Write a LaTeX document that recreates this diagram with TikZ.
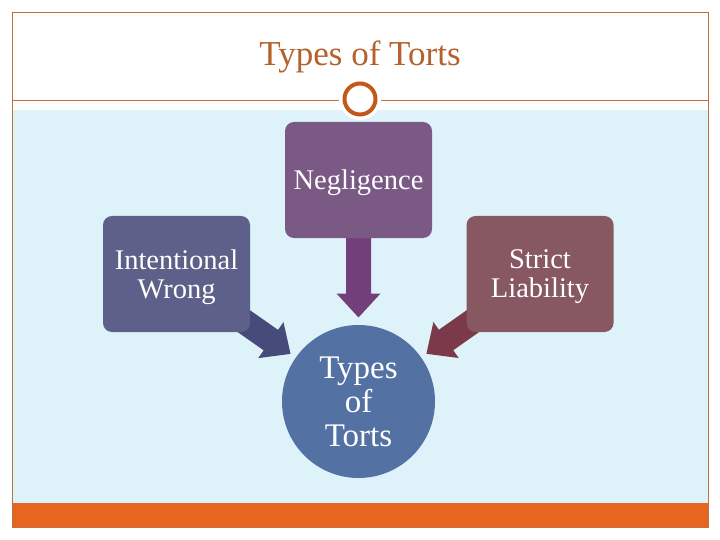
\documentclass[tikz,border=0pt]{standalone}
\usepackage{fontspec}
\setmainfont{Liberation Serif}
\usetikzlibrary{calc}
\definecolor{bgblue}{HTML}{DDF3F9}
\definecolor{bandor}{HTML}{E6661F}
\definecolor{framec}{HTML}{C0703E}
\definecolor{titlec}{HTML}{B4612C}
\definecolor{ringc}{HTML}{C4581A}
\definecolor{negc}{HTML}{7B5985}
\definecolor{iwcol}{HTML}{5D6088}
\definecolor{slcol}{HTML}{875862}
\definecolor{tccol}{HTML}{5471A4}
\definecolor{arrneg}{HTML}{733F7B}
\definecolor{arriw}{HTML}{464B7A}
\definecolor{arrsl}{HTML}{7B3949}
\newcommand\blkarrow[3]{%
  \coordinate (hb) at ($(#2)!24pt!(#1)$);
  \fill[#3] ($(#1)!12.5pt!90:(#2)$) -- ($(hb)!12.5pt!90:(#2)$) -- ($(hb)!22pt!90:(#2)$)
    -- (#2) -- ($(hb)!22pt!-90:(#2)$) -- ($(hb)!12.5pt!-90:(#2)$) -- ($(#1)!12.5pt!-90:(#2)$) -- cycle;
}
\tikzset{
  framel/.style={draw=framec, line width=0.8pt},
  boxn/.style={rounded corners=9pt, minimum width=147pt, minimum height=116pt, inner sep=0pt},
  boxtxt/.style={text=white, align=center, inner sep=0pt, font=\fontsize{28.5}{29}\selectfont},
  hubn/.style={circle, fill=tccol, minimum size=153pt, inner sep=0pt, text=white, align=center,
    font=\fontsize{33}{34}\selectfont},
  titlen/.style={text=titlec, font=\fontsize{35}{40}\selectfont, inner sep=0pt, anchor=base}
}
\begin{document}
\begin{tikzpicture}[x=1pt,y=-1pt]
\useasboundingbox (0,0) rectangle (720,540);
\fill[white] (0,0) rectangle (720,540);
\fill[bgblue] (12,110) rectangle (708,503);
\fill[bandor] (12,503) rectangle (708,527);
\draw[framel] (12,12) rectangle (708,527);
\draw[framel] (12,100) -- (708,100);
\node[titlen] (title) at (360,66) {Types of Torts};
\fill[white] (360,99) circle (21pt);
\draw[ringc, line width=4pt] (360,99) circle (15.5pt);
% centres
\coordinate (negp) at (358.5,180);
\coordinate (iwp) at (176.5,274);
\coordinate (slp) at (540,274);
\coordinate (tcp) at (358.5,401.5);
\coordinate (tipn) at ($(tcp)!84pt!(negp)$);
\coordinate (tipi) at ($(tcp)!83pt!(iwp)$);
\coordinate (tips) at ($(tcp)!83pt!(slp)$);
\blkarrow{negp}{tipn}{arrneg}
\blkarrow{iwp}{tipi}{arriw}
\blkarrow{slp}{tips}{arrsl}
\node[boxn, fill=negc] (neg) at (negp) {};
\node[boxn, fill=iwcol] (iw) at (iwp) {};
\node[boxn, fill=slcol] (sl) at (slp) {};
\node[boxtxt] (negt) at ([yshift=-3pt]neg.center) {Negligence};
\node[boxtxt] (iwt) at ([yshift=-3pt]iw.center) {Intentional\\Wrong};
\node[boxtxt] (slt) at ([yshift=-3pt]sl.center) {Strict\\Liability};
\node[hubn] (tc) at (tcp) {Types\\of\\Torts};
\end{tikzpicture}
\end{document}
